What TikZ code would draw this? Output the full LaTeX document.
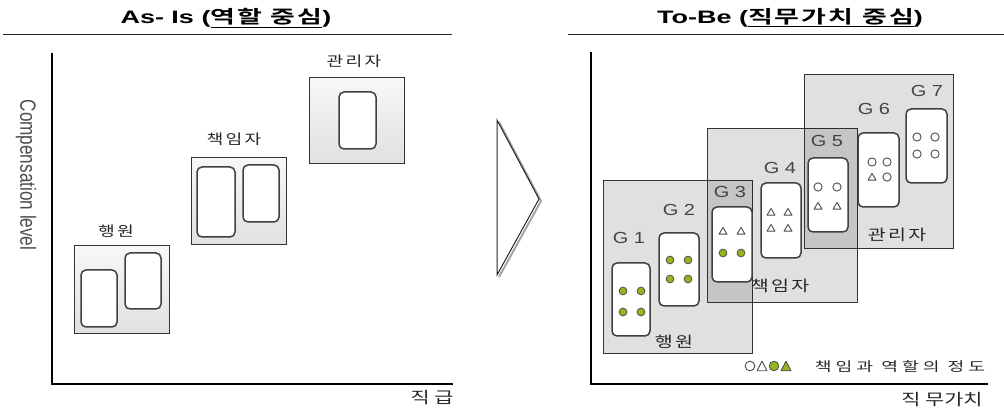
\documentclass[tikz,border=0pt]{standalone}
\usepackage{fontspec}
\setmainfont{Liberation Sans}
\newfontfamily\kr[BoldFont={Noto Sans CJK KR Bold}]{Noto Sans CJK KR}
\newfontfamily\krt[LetterSpace=8,BoldFont={Noto Sans CJK KR Bold}]{Noto Sans CJK KR}
\newfontfamily\krs[LetterSpace=12]{Noto Sans CJK KR}
\newfontfamily\krw[LetterSpace=22]{Noto Sans CJK KR}
\definecolor{dotgreen}{HTML}{93B51E}
\definecolor{txtgray}{HTML}{444444}
\newcommand\hs[2]{\scalebox{#1}[1]{#2}}
\newcommand\gdt[2]{\draw[gdotstyle] (#1,#2) circle[radius=3.9];}
\newcommand\hdt[2]{\draw[odotstyle] (#1,#2) circle[radius=4.1];}
\newcommand\ttri[2]{\draw[tristyle] (#1,#2) ++(-4,3.2) -- ++(8,0) -- ++(-4,-6.8) -- cycle;}
\tikzset{
  outerL/.style={draw=black!80,line width=1pt,top color=gray!6,bottom color=gray!24},
  outerR/.style={draw=black!80,line width=1pt,fill=black,fill opacity=0.12},
  inner/.style={draw=black!75,line width=1.5pt,fill=white,rounded corners=5pt},
  axis/.style={draw=black,line width=1.2pt},
  rule/.style={draw=black!85,line width=1pt},
  lbl/.style={font=\krs\fontsize{14}{14}\selectfont,text=black!85,inner sep=0pt},
  lblr/.style={font=\krs\fontsize{15}{15}\selectfont,text=black!85,inner sep=0pt},
  albl/.style={font=\kr\fontsize{16}{16}\selectfont,text=black!85,inner sep=0pt},
  glbl/.style={font=\fontsize{16}{16}\selectfont,text=txtgray,inner sep=0pt},
  gdotstyle/.style={fill=dotgreen,draw=black!70,line width=0.8pt},
  odotstyle/.style={draw=black!70,line width=0.9pt},
  tristyle/.style={draw=black!70,line width=0.9pt,line join=round},
}
\begin{document}
\begin{tikzpicture}[x=1pt,y=-1pt]
\useasboundingbox (0,0) rectangle (1004,411);
% ---------- left panel ----------
\node[inner sep=0pt] (t1) at (226,18) {\hs{1.5}{\fontsize{18}{18}\selectfont\bfseries As- Is (\krt\bfseries\underline{역할 중심}\rmfamily\bfseries)}};
\coordinate (r1a) at (3,35); \coordinate (r1b) at (452,35);
\draw[rule] (r1a) -- (r1b);
\coordinate (o1) at (52,384); \coordinate (y1) at (52,53); \coordinate (x1) at (453,384);
\draw[axis] (y1) -- (o1) -- (x1);
\node[rotate=-90,text=black!70,inner sep=0pt] (yl) at (26,175) {\fontsize{22}{22}\selectfont\hs{0.78}{Compensation level}};
\node[albl] (xl1) at (432,398) {\hs{1.3}{직 급}};
% boxes
\draw[outerL] (74,246) rectangle (169,334);
\draw[inner] (81,270) rectangle (117,327);
\draw[inner] (125,253) rectangle (161,309);
\node[lbl] (l1) at (116,231) {\hs{1.3}{행원}};
\draw[outerL] (191,158) rectangle (286,245);
\draw[inner] (197,167) rectangle (235,237);
\draw[inner] (243,165) rectangle (279,222);
\node[lbl] (l2) at (234,139) {\hs{1.3}{책임자}};
\draw[outerL] (309,78) rectangle (404,164);
\draw[inner] (339,92) rectangle (376,149);
\node[lbl] (l3) at (354,61) {\hs{1.3}{관리자}};
% ---------- chevron ----------
\draw[gray!70,line width=2pt] (499,122) -- (541,201) -- (499,277);
\draw[black!85,line width=1pt,line join=miter] (497,120) -- (539,199) -- (497,275) -- cycle;
% ---------- right panel ----------
\node[inner sep=0pt] (t2) at (790,18) {\hs{1.5}{\fontsize{18}{18}\selectfont\bfseries To-Be (\krt\bfseries\underline{직무가치 중심}\rmfamily\bfseries)}};
\coordinate (r2a) at (568,35); \coordinate (r2b) at (1004,35);
\draw[rule] (r2a) -- (r2b);
\coordinate (o2) at (591,384); \coordinate (y2) at (591,52); \coordinate (x2) at (988,384);
\draw[axis] (y2) -- (o2) -- (x2);
\node[albl] (xl2) at (942,400) {\hs{1.3}{직 무가치}};
% outer boxes
\draw[outerR] (603,181) rectangle (752,354);
\draw[outerR] (707,129) rectangle (857,303);
\draw[outerR] (804,75) rectangle (953,249);
\node[lblr] (r1) at (674,342) {\hs{1.3}{행원}};
\node[lblr] (r2) at (780,286) {\hs{1.3}{책임자}};
\node[lblr] (r3) at (897,235) {\hs{1.3}{관리자}};
% grades
\draw[inner] (612,263) rectangle (650,336);
\node[glbl] (g1) at (629,238) {\hs{1.25}{G 1}};
\gdt{623}{291}\gdt{641}{291}\gdt{623}{312}\gdt{641}{312}
\draw[inner] (659,233) rectangle (699,306);
\node[glbl] (g2) at (679,210) {\hs{1.25}{G 2}};
\gdt{670}{260}\gdt{688}{260}\gdt{670}{279}\gdt{688}{279}
\draw[inner] (712,207) rectangle (752,282);
\node[glbl] (g3) at (730,192) {\hs{1.25}{G 3}};
\ttri{723}{231}\ttri{741}{231}\gdt{723}{253}\gdt{741}{253}
\draw[inner] (761,183) rectangle (801,258);
\node[glbl] (g4) at (780,168) {\hs{1.25}{G 4}};
\ttri{771}{212}\ttri{788}{212}\ttri{771}{228}\ttri{788}{228}
\draw[inner] (808,158) rectangle (848,232);
\node[glbl] (g5) at (827,141) {\hs{1.25}{G 5}};
\hdt{818}{187}\hdt{837}{187}\ttri{818}{206}\ttri{837}{206}
\draw[inner] (858,133) rectangle (899,207);
\node[glbl] (g6) at (874,109) {\hs{1.25}{G 6}};
\hdt{872}{162}\hdt{887}{162}\ttri{872}{177}\hdt{887}{177}
\draw[inner] (906,109) rectangle (947,183);
\node[glbl] (g7) at (927,91) {\hs{1.25}{G 7}};
\hdt{917}{137}\hdt{935}{137}\hdt{917}{154}\hdt{935}{154}
% legend
\draw[odotstyle] (750,366) circle[radius=4.8];
\draw[tristyle] (762,366) ++(-5,4.8) -- ++(10,0) -- ++(-5,-9.6) -- cycle;
\draw[gdotstyle] (774,366) circle[radius=4.8];
\draw[tristyle,fill=dotgreen] (786,366) ++(-5,4.8) -- ++(10,0) -- ++(-5,-9.6) -- cycle;
\node[inner sep=0pt,text=black!85] (lg) at (900,367) {\hs{1.4}{\krw\fontsize{13}{13}\selectfont 책임과 역할의 정도}};
\end{tikzpicture}
\end{document}
